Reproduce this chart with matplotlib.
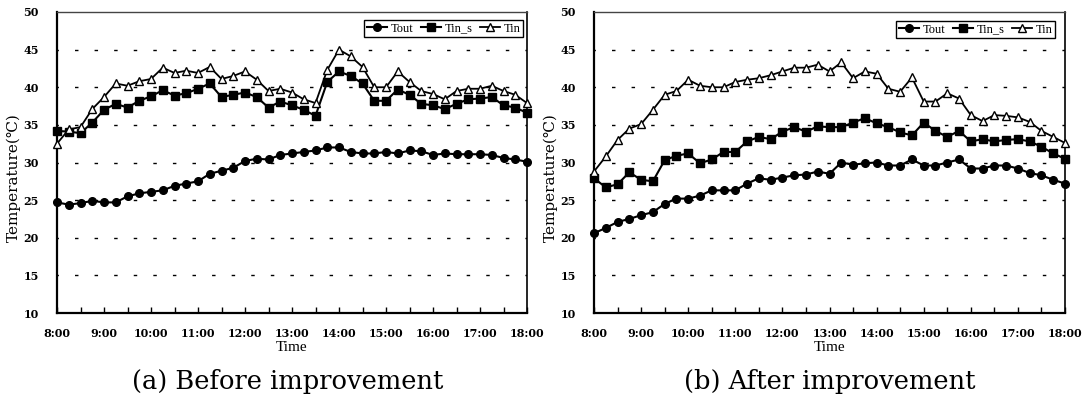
import matplotlib
matplotlib.use("Agg")
import matplotlib.pyplot as plt
from matplotlib.ticker import FixedLocator

plt.rcParams['lines.scale_dashes'] = False

# ---------------- data ----------------
times = ["8:00", "8:15", "8:30", "8:45", "9:00", "9:15", "9:30", "9:45",
         "10:00", "10:15", "10:30", "10:45", "11:00", "11:15", "11:30", "11:45",
         "12:00", "12:15", "12:30", "12:45", "13:00", "13:15", "13:30", "13:45",
         "14:00", "14:15", "14:30", "14:45", "15:00", "15:15", "15:30", "15:45",
         "16:00", "16:15", "16:30", "16:45", "17:00", "17:15", "17:30", "17:45",
         "18:00"]
hour_labels = ["8:00", "9:00", "10:00", "11:00", "12:00", "13:00",
               "14:00", "15:00", "16:00", "17:00", "18:00"]
half_hour_labels = ["8:30", "9:30", "10:30", "11:30", "12:30", "13:30",
                    "14:30", "15:30", "16:30", "17:30"]
y_ticks = [10, 15, 20, 25, 30, 35, 40, 45, 50]
series_names = ["Tout", "Tin_s", "Tin"]

before_tout = [24.7, 24.4, 24.6, 24.9, 24.7, 24.7, 25.5, 25.9, 26.1, 26.3,
               26.9, 27.2, 27.5, 28.5, 28.9, 29.3, 30.2, 30.5, 30.4, 31.0,
               31.2, 31.4, 31.6, 32.0, 32.0, 31.4, 31.2, 31.2, 31.4, 31.2,
               31.6, 31.5, 31.0, 31.2, 31.1, 31.1, 31.1, 31.0, 30.6, 30.4,
               30.1]
before_tin_s = [34.2, 34.1, 33.9, 35.3, 37.0, 37.8, 37.3, 38.2, 38.8, 39.6,
                38.9, 39.2, 39.8, 40.5, 38.7, 39.0, 39.3, 38.7, 37.3, 38.1,
                37.6, 37.0, 36.2, 40.7, 42.1, 41.5, 40.5, 38.2, 38.2, 39.7,
                39.0, 37.8, 37.6, 37.1, 37.8, 38.4, 38.5, 38.7, 37.6, 37.3,
                36.6]
before_tin = [32.5, 34.4, 34.7, 37.1, 38.7, 40.5, 40.2, 40.8, 41.1, 42.6,
              41.9, 42.2, 41.9, 42.7, 41.1, 41.5, 42.1, 41.0, 39.5, 39.8,
              39.3, 38.4, 37.9, 42.3, 45.0, 44.1, 42.7, 40.0, 40.0, 42.1,
              40.7, 39.5, 39.1, 38.4, 39.5, 39.8, 39.8, 40.2, 39.5, 39.0,
              37.9]

after_tout = [20.6, 21.3, 22.1, 22.5, 23.0, 23.4, 24.5, 25.2, 25.2, 25.6,
              26.3, 26.3, 26.3, 27.2, 27.9, 27.7, 28.0, 28.3, 28.4, 28.8,
              28.5, 30.0, 29.7, 29.9, 30.0, 29.6, 29.6, 30.4, 29.6, 29.6,
              30.0, 30.4, 29.2, 29.2, 29.6, 29.6, 29.2, 28.6, 28.3, 27.7,
              27.2]
after_tin_s = [27.9, 26.7, 27.1, 28.7, 27.7, 27.5, 30.3, 30.9, 31.2, 29.9,
               30.4, 31.4, 31.4, 32.8, 33.4, 33.1, 34.1, 34.7, 34.1, 34.8,
               34.7, 34.7, 35.3, 35.9, 35.2, 34.7, 34.0, 33.6, 35.3, 34.2,
               33.4, 34.2, 32.8, 33.1, 32.8, 33.0, 33.1, 32.8, 32.1, 31.2,
               30.5]
after_tin = [28.8, 30.8, 33.0, 34.5, 35.1, 37.0, 39.0, 39.5, 41.0, 40.2,
             40.0, 40.0, 40.7, 41.0, 41.2, 41.6, 42.1, 42.6, 42.6, 43.0,
             42.1, 43.3, 41.2, 42.1, 41.8, 39.8, 39.4, 41.3, 38.1, 38.1,
             39.2, 38.5, 36.3, 35.5, 36.3, 36.2, 36.0, 35.4, 34.2, 33.4,
             32.6]

captions = ["(a) Before improvement", "(b) After improvement"]


def to_hours(s):
    h, m = s.split(":")
    return int(h) + int(m) / 60.0


x = [to_hours(t) for t in times]
major = [to_hours(t) for t in hour_labels]
minor = [to_hours(t) for t in half_hour_labels]

TICK_FONT = dict(family=["DejaVu Serif"], weight="bold", size=8)
SERIF = ["Liberation Serif", "DejaVu Serif", "DejaVu Sans"]
WIDE_SERIF = ["DejaVu Serif", "DejaVu Sans"]

fig = plt.figure(figsize=(10.9, 4.03), dpi=100)
W, H = 1090.0, 403.0
ax1 = fig.add_axes([57 / W, 90 / H, 470 / W, 301 / H])
ax2 = fig.add_axes([594 / W, 90 / H, 471 / W, 301 / H])


def draw(ax, tout, tin_s, tin, leg_anchor):
    l1, = ax.plot(x, tout, color="black", lw=1.5, marker="o", ms=5.5,
                  mfc="black", mec="black", clip_on=False, zorder=3)
    l2, = ax.plot(x, tin_s, color="black", lw=1.5, marker="s", ms=5.5,
                  mfc="black", mec="black", clip_on=False, zorder=3)
    l3, = ax.plot(x, tin, color="black", lw=1.3, marker="^", ms=6,
                  mfc="white", mec="black", mew=1.0, clip_on=False, zorder=4)
    ax.set_xlim(major[0], major[-1])
    ax.set_ylim(y_ticks[0], y_ticks[-1])
    ax.xaxis.set_major_locator(FixedLocator(major))
    ax.xaxis.set_minor_locator(FixedLocator(minor))
    ax.set_xticklabels(hour_labels, fontdict=TICK_FONT)
    ax.set_yticks(y_ticks)
    ax.set_yticklabels([str(v) for v in y_ticks], fontdict=TICK_FONT)
    ax.tick_params(axis="x", which="both", direction="in", length=4,
                   width=1, pad=11, top=False)
    ax.tick_params(axis="y", which="both", length=0, pad=13)
    ax.grid(axis="y", color="black", lw=1.0, linestyle=(1.5, (2.5, 11.6)))
    gl = ax.get_ygridlines()
    gl[0].set_visible(False)
    gl[-1].set_visible(False)
    for s in ("left", "bottom"):
        ax.spines[s].set_linewidth(1.6)
        ax.spines[s].set_color("black")
    ax.spines["right"].set_linewidth(1.2)
    ax.spines["right"].set_color("black")
    ax.spines["top"].set_linewidth(1.0)
    ax.spines["top"].set_color("#444444")
    ax.set_axisbelow(True)
    ax.set_xlabel("Time", family=SERIF, size=11, labelpad=1)
    ax.set_ylabel("Temperature(\u2103)", family=WIDE_SERIF, size=11)
    ax.yaxis.set_label_coords(-0.076, 0.45)
    leg = ax.legend([l1, l2, l3], series_names, loc="upper right",
                    bbox_to_anchor=leg_anchor, borderaxespad=0, ncol=3,
                    prop=dict(family=SERIF, size=9), frameon=True,
                    fancybox=False, framealpha=1, edgecolor="black",
                    handlelength=1.6, handletextpad=0.3, columnspacing=0.6,
                    borderpad=0.2, markerscale=1.0)
    leg.get_frame().set_linewidth(1.0)


draw(ax1, before_tout, before_tin_s, before_tin, (0.9915, 0.973))
draw(ax2, after_tout, after_tin_s, after_tin, (0.979, 0.970))

fig.text(287.5 / W, 1 - 382 / H, captions[0], family=WIDE_SERIF, size=18.5,
         ha="center", va="center")
fig.text(830 / W, 1 - 382 / H, captions[1], family=WIDE_SERIF, size=18.5,
         ha="center", va="center")

fig.savefig("out.png", dpi=100)
